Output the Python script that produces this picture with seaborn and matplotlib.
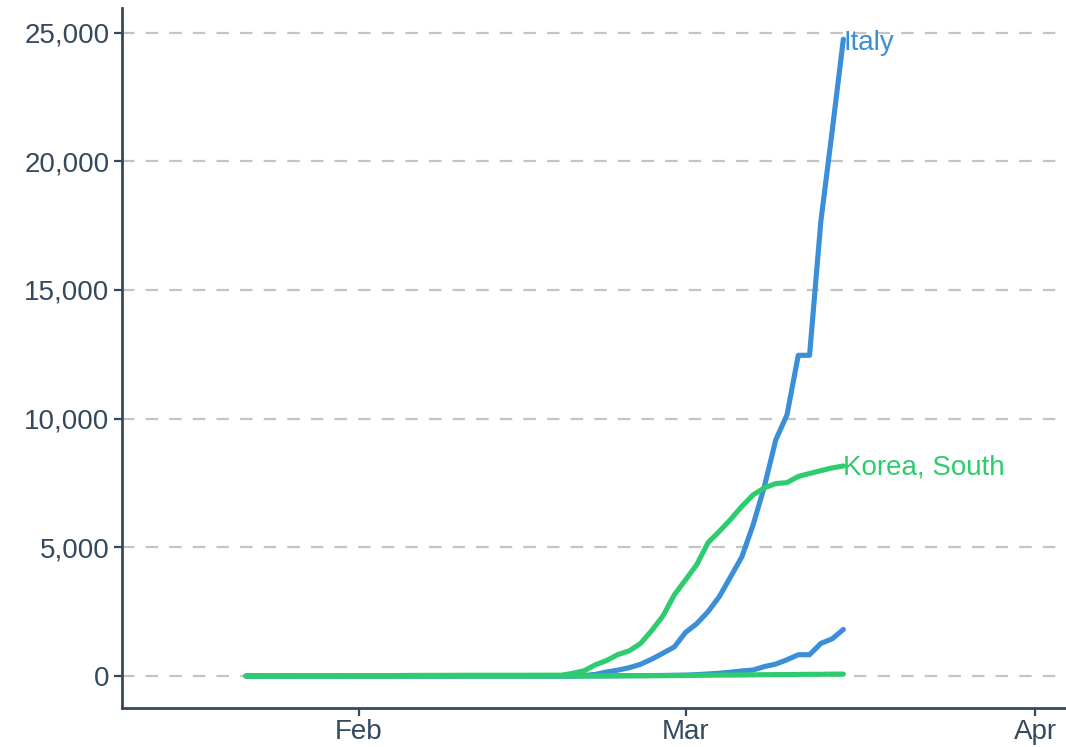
import numpy as np
import pandas as pd
import seaborn as sns
import matplotlib
matplotlib.use("Agg")
import matplotlib.pyplot as plt
import matplotlib.dates as mdates
from matplotlib.ticker import FuncFormatter

dates = pd.date_range("2020-01-22", "2020-03-15", freq="D")

italy_confirmed = [0]*9 + [2]*20 + [3, 20, 62, 155, 229, 322, 453, 655, 888, 1128,
                   1694, 2036, 2502, 3089, 3858, 4636, 5883, 7375, 9172, 10149,
                   12462, 12462, 17660, 21157, 24747]
italy_deaths = [0]*30 + [1, 2, 3, 7, 10, 12, 17, 21, 29,
                34, 52, 79, 107, 148, 197, 233, 366, 463, 631,
                827, 827, 1266, 1441, 1809]
korea_confirmed = [1, 1, 2, 2, 3, 4, 4, 4, 4, 11,
                   12, 15, 15, 16, 19, 23, 24, 24, 25, 27,
                   28, 28, 28, 28, 28, 29, 30, 31, 31, 104,
                   204, 433, 602, 833, 977, 1261, 1766, 2337, 3150, 3736,
                   4335, 5186, 5621, 6088, 6593, 7041, 7314, 7478, 7513, 7755,
                   7869, 7979, 8086, 8162]
korea_deaths = [0]*29 + [1, 2, 2, 6, 8, 10, 12, 13, 13, 16, 17,
                28, 28, 35, 35, 42, 44, 50, 53, 54, 60,
                66, 66, 72, 75]

countries = ["Italy", "Korea, South"]
colors = {"Italy": "#3a8fd8", "Korea, South": "#2ecc6f"}

frames = []
for c, m, v in [("Italy", "confirmed", italy_confirmed), ("Italy", "deaths", italy_deaths),
                ("Korea, South", "confirmed", korea_confirmed), ("Korea, South", "deaths", korea_deaths)]:
    frames.append(pd.DataFrame({"date": dates, "value": v, "country": c, "metric": m}))
df = pd.concat(frames, ignore_index=True)

sns.set_theme(style="white")
plt.rcParams["font.family"] = ["Liberation Sans", "DejaVu Sans"]
plt.rcParams["lines.scale_dashes"] = False

fig = plt.figure(figsize=(10.66, 7.47), dpi=100)
ax = fig.add_axes([0.1144, 0.052, 0.8856, 0.937])

axis_color = "#34495e"

sns.lineplot(data=df, x="date", y="value", hue="country", units="metric",
             estimator=None, palette=colors, linewidth=3.7, legend=False, ax=ax,
             zorder=3)

ax.set_xlim(pd.Timestamp("2020-01-11"), pd.Timestamp("2020-04-03 18:00"))
ax.set_ylim(-1250, 25950)
ax.set_yticks([0, 5000, 10000, 15000, 20000, 25000])
ax.yaxis.set_major_formatter(FuncFormatter(lambda v, p: f"{int(v):,}"))
ax.xaxis.set_major_locator(mdates.MonthLocator())
ax.xaxis.set_major_formatter(mdates.DateFormatter("%b"))

ax.yaxis.grid(True, color="#c4c4c4", linestyle=(0, (9, 8)), linewidth=1.6, zorder=0)
ax.xaxis.grid(False)
ax.set_xlabel("")
ax.set_ylabel("")

for side in ["top", "right"]:
    ax.spines[side].set_visible(False)
for side in ["left", "bottom"]:
    ax.spines[side].set_color(axis_color)
    ax.spines[side].set_linewidth(2.0)

ax.tick_params(axis="both", colors=axis_color, labelsize=20, length=6, width=1.6,
               direction="out", bottom=True, left=True)
ax.tick_params(axis="y", pad=3)
ax.tick_params(axis="x", pad=2)

end = dates[-1]
ax.text(end, italy_confirmed[-1] - 150, "Italy", color=colors["Italy"], fontsize=20,
        ha="left", va="center")
ax.text(end, korea_confirmed[-1] - 50, "Korea, South", color=colors["Korea, South"], fontsize=20,
        ha="left", va="center")

fig.savefig("out.png", dpi=100)
